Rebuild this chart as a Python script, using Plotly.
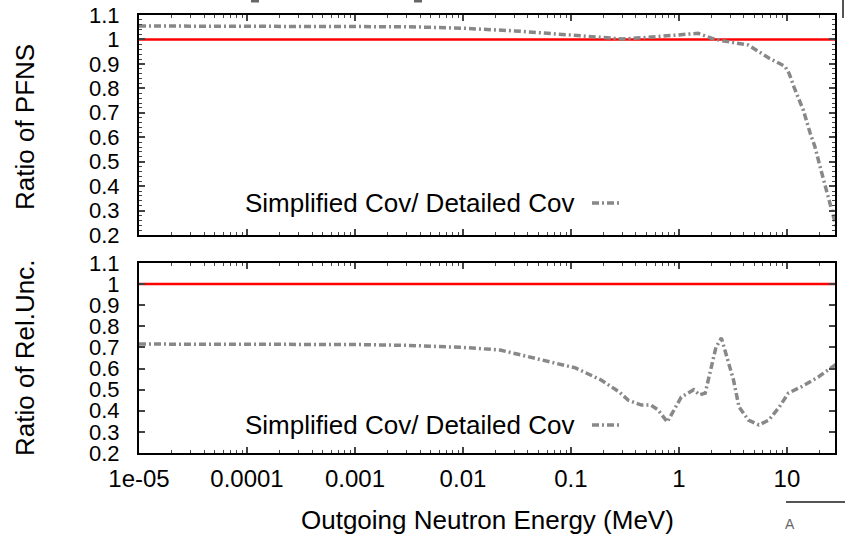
import plotly.graph_objects as go

# ---------------- data ----------------
E_pfns = [1e-5, 1e-4, 1e-3, 3e-3, 0.01, 0.03, 0.1, 0.2, 0.3, 0.5, 1.0, 1.5, 2.0, 2.5,
          4.4, 6.8, 9.6, 10.5, 11.6, 14.2, 16.4, 18.2, 20.3, 22.7, 26.3, 28.0, 30.0]
ratio_pfns = [1.055, 1.055, 1.054, 1.052, 1.046, 1.035, 1.018, 1.006, 1.002, 1.008, 1.020,
              1.025, 1.005, 0.995, 0.977, 0.924, 0.890, 0.860, 0.806, 0.710, 0.617, 0.560,
              0.478, 0.397, 0.290, 0.250, 0.200]

E_unc = [1e-5, 1e-4, 1e-3, 3e-3, 0.01, 0.022, 0.056, 0.11, 0.19, 0.28, 0.34, 0.45, 0.55,
         0.64, 0.78, 0.9, 1.05, 1.37, 1.55, 1.75, 1.98, 2.2, 2.47, 2.7, 3.2, 3.6, 4.4,
         5.5, 6.8, 8.5, 10.3, 13.5, 19.5, 28.0, 30.0]
ratio_unc = [0.716, 0.716, 0.714, 0.710, 0.700, 0.688, 0.640, 0.603, 0.546, 0.489, 0.450,
             0.427, 0.427, 0.404, 0.347, 0.404, 0.465, 0.500, 0.475, 0.484, 0.593, 0.700,
             0.745, 0.674, 0.546, 0.418, 0.356, 0.333, 0.356, 0.418, 0.484, 0.513, 0.560,
             0.617, 0.625]

ref_E = [1e-5, 30.0]
ref_val = [1.0, 1.0]

x_tickvals = [1e-5, 1e-4, 1e-3, 1e-2, 0.1, 1, 10]
x_ticktext = ["1e-05", "0.0001", "0.001", "0.01", "0.1", "1", "10"]
y_tickvals = [1.1, 1.0, 0.9, 0.8, 0.7, 0.6, 0.5, 0.4, 0.3, 0.2]
y_ticktext = ["1.1", "1", "0.9", "0.8", "0.7", "0.6", "0.5", "0.4", "0.3", "0.2"]

legend_text = "Simplified Cov/ Detailed Cov"
ylabel_top = "Ratio of PFNS"
ylabel_bot = "Ratio of Rel.Unc."
xlabel = "Outgoing Neutron Energy (MeV)"

# ---------------- layout geometry ----------------
W, H = 845, 540
ML, MR, MT, MB = 139, 10, 15, 87
PW, PH = W - ML - MR, H - MT - MB


def px(x):
    return (x - ML) / PW


def py(y):
    return (H - MB - y) / PH


FONT = "Liberation Sans, Arial, Helvetica, sans-serif"
GRAY = "#888888"
DASH = "7px,3px,2px,3px"

fig = go.Figure()
fig.add_trace(go.Scatter(x=ref_E, y=ref_val, mode="lines", line=dict(color="#ff0000", width=2.5),
                         xaxis="x", yaxis="y", showlegend=False))
fig.add_trace(go.Scatter(x=E_pfns, y=ratio_pfns, mode="lines",
                         line=dict(color=GRAY, width=3.5, dash=DASH),
                         xaxis="x", yaxis="y", showlegend=False))
fig.add_trace(go.Scatter(x=ref_E, y=ref_val, mode="lines", line=dict(color="#ff0000", width=2.5),
                         xaxis="x2", yaxis="y2", showlegend=False))
fig.add_trace(go.Scatter(x=E_unc, y=ratio_unc, mode="lines",
                         line=dict(color=GRAY, width=3.5, dash=DASH),
                         xaxis="x2", yaxis="y2", showlegend=False))

xr = [-5, 1.445]
common_x = dict(type="log", range=xr, ticks="inside", ticklen=6, tickwidth=1.5,
                mirror="allticks", showline=True, linecolor="black", linewidth=2,
                showgrid=False, zeroline=False, tickvals=x_tickvals, ticktext=x_ticktext,
                minor=dict(ticks="inside", ticklen=3, tickwidth=1.2, dtick="D1", showgrid=False),
                automargin=False, tickfont=dict(family=FONT, size=24, color="black"))
common_y = dict(range=[0.2, 1.1], ticks="inside", ticklen=6, tickwidth=1.5,
                mirror="allticks", showline=True, linecolor="black", linewidth=2,
                showgrid=False, zeroline=False, tickvals=y_tickvals, ticktext=y_ticktext,
                automargin=False, ticklabelstandoff=13,
                tickfont=dict(family=FONT, size=22, color="black"))

top_dom = [1 - 220 / PH, 1]
bot_dom = [0, 1 - 248 / PH]

fig.update_layout(
    width=W, height=H,
    margin=dict(l=ML, r=MR, t=MT, b=MB),
    paper_bgcolor="white", plot_bgcolor="white",
    xaxis=dict(common_x, anchor="y", showticklabels=False),
    yaxis=dict(common_y, domain=top_dom, anchor="x",
               minor=dict(ticks="inside", ticklen=3, tickwidth=1, dtick=0.02)),
    xaxis2=dict(common_x, anchor="y2", ticklabelstandoff=3),
    yaxis2=dict(common_y, domain=bot_dom, anchor="x2"),
    font=dict(family=FONT, size=24, color="black"),
    showlegend=False,
)

TS = 26
ann = []
ann.append(dict(text=ylabel_top, x=px(25), y=py(127), xref="paper", yref="paper",
                xanchor="center", yanchor="middle",
                textangle=-90, showarrow=False, font=dict(size=TS, family=FONT)))
ann.append(dict(text=ylabel_bot, x=px(25), y=py(358), xref="paper", yref="paper",
                xanchor="center", yanchor="middle",
                textangle=-90, showarrow=False, font=dict(size=TS, family=FONT)))
ann.append(dict(text=xlabel, x=px(488), y=py(520), xref="paper", yref="paper",
                xanchor="center", yanchor="middle",
                showarrow=False, font=dict(size=TS, family=FONT)))
for yy in (203, 425):
    ann.append(dict(text=legend_text, x=px(576), y=py(yy), xref="paper", yref="paper",
                    xanchor="right", yanchor="middle", showarrow=False,
                    font=dict(size=TS, family=FONT)))
ann.append(dict(text="A", x=px(790), y=py(524), xref="paper", yref="paper",
                xanchor="center", yanchor="middle",
                showarrow=False, font=dict(size=14, family=FONT, color="#666666")))
fig.update_layout(annotations=ann)

shapes = []
for yy in (203, 425):
    shapes.append(dict(type="line", xref="paper", yref="paper", x0=px(592), x1=px(620),
                       y0=py(yy), y1=py(yy), line=dict(color=GRAY, width=3.5, dash=DASH)))
shapes.append(dict(type="line", xref="paper", yref="paper", x0=px(786), x1=px(845),
                   y0=py(502), y1=py(502), line=dict(color="#555555", width=2)))
shapes.append(dict(type="line", xref="paper", yref="paper", x0=px(843), x1=px(843),
                   y0=py(0), y1=py(18), line=dict(color="#555555", width=2)))
for xx in (255, 418):
    shapes.append(dict(type="rect", xref="paper", yref="paper", x0=px(xx - 4), x1=px(xx + 4),
                       y0=py(0), y1=py(2.5), line=dict(width=0), fillcolor="#666666"))
fig.update_layout(shapes=shapes)

fig.write_html("out.html")
